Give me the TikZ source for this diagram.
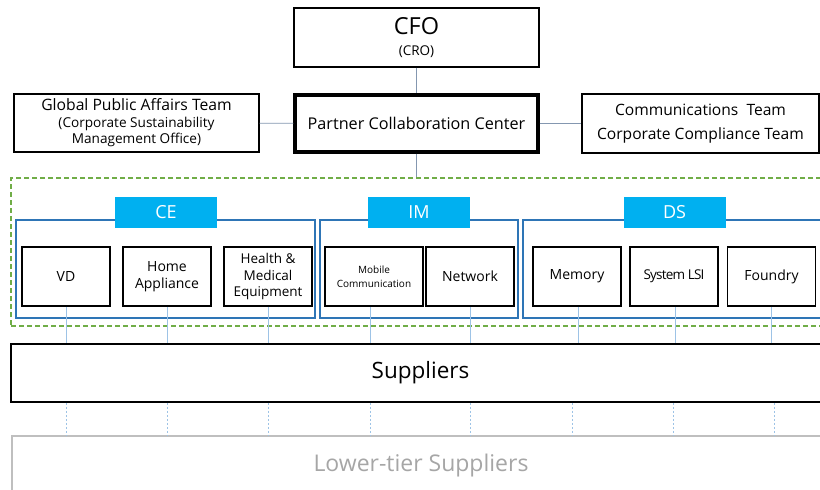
\documentclass[tikz,border=0pt]{standalone}
\usepackage{fontspec}
\setmainfont{Open Sans}
\definecolor{cyanlab}{HTML}{00B0F0}
\definecolor{contblue}{HTML}{2E75B6}
\definecolor{grn}{HTML}{70AD47}
\definecolor{lnk}{HTML}{9DC3E6}
\definecolor{lnkgray}{HTML}{8497B0}
\definecolor{lowgray}{HTML}{BFBFBF}
\definecolor{lowtxt}{HTML}{A6A6A6}
\newcommand{\fs}[2]{\fontsize{#1}{#2}\selectfont}
\tikzset{
  x=1pt, y=-1pt,
  box/.style={draw=black, line width=1.3pt, fill=white, inner sep=0pt, align=center},
  inner/.style={draw=black, line width=1.8pt, fill=white, inner sep=0pt, align=center,
    minimum width=88pt, minimum height=59pt, font=\fs{14}{17}},
  cont/.style={draw=contblue, line width=1.5pt, inner sep=0pt, minimum height=98pt},
  lab/.style={fill=cyanlab, text=white, inner sep=0pt, minimum width=102pt,
    minimum height=31pt, font=\fs{18}{20}},
  grp/.style={draw=grn, line width=1.5pt, dash pattern=on 5pt off 3pt, inner sep=0pt},
  link/.style={draw=lnk, line width=0.8pt},
  toplink/.style={draw=lnkgray, line width=0.8pt},
  dotlink/.style={draw=lnk, line width=0.8pt, dash pattern=on 2pt off 2pt},
}
\begin{document}
\begin{tikzpicture}
\fill[white] (0,0) rectangle (820,490);
\clip (0,0) rectangle (820,490);
\useasboundingbox (0,0) rectangle (820,490);

% top level
\node[box, minimum width=245pt, minimum height=59pt, font=\fs{23.5}{21}] (cfo) at (416.5,37.5)
  {CFO\\{\fs{13.5}{14}(CRO)}};
\node[box, line width=3.2pt, minimum width=243pt, minimum height=57pt, font=\fs{16.2}{18}] (pcc) at (416.5,123.5)
  {Partner Collaboration Center};
\node[box, minimum width=245pt, minimum height=58pt, font=\fs{15.7}{16.5}] (gpa) at (136.5,123)
  {Global Public Affairs Team\\{\fs{13.6}{15}(Corporate Sustainability}\\{\fs{13.6}{15}Management Office)}};
\node[box, minimum width=237pt, minimum height=59pt, font=\fs{15.6}{24}] (comm) at (700.5,123.5)
  {Communications\ \ Team\\Corporate Compliance Team};

% group
\node[grp, minimum width=819pt, minimum height=148pt] (grpbox) at (420.5,252) {};

% containers
\node[cont, minimum width=299pt] (ce) at (165.5,269) {};
\node[cont, minimum width=198pt] (im) at (419,269) {};
\node[cont, minimum width=327pt] (ds) at (686.5,269) {};
\node[lab] (celab) at (166,212.5) {CE};
\node[lab] (imlab) at (419,212.5) {IM};
\node[lab] (dslab) at (674.5,212.5) {DS};

% inner boxes
\node[inner] (vd) at (66,276.5) {VD};
\node[inner] (home) at (167,276.5) {Home\\Appliance};
\node[inner, font=\fs{13.5}{16.5}] (health) at (268,276.5) {Health \&\\Medical\\Equipment};
\node[inner, minimum width=98pt, font=\fs{10}{14}] (mobile) at (374,276.5) {Mobile\\Communication};
\node[inner] (network) at (470,276.5) {Network};
\node[inner] (memory) at (577,276.5) {Memory};
\node[inner, font=\fs{13.5}{17}\addfontfeatures{LetterSpace=-6}] (lsi) at (674,276.5) {System LSI};
\node[inner] (foundry) at (771.5,276.5) {Foundry};

% suppliers
\node[box, line width=1.8pt, minimum width=819pt, minimum height=58pt, font=\fs{22.5}{24}] (sup) at (420.5,373) {Suppliers};
\node[draw=lowgray, line width=1.8pt, fill=white, inner sep=0pt, minimum width=818pt, minimum height=60pt,
  text=lowtxt, font=\fs{23}{24}] (low) at (421,466) {Lower-tier Suppliers};

% connectors
\draw[toplink] (cfo) -- (pcc);
\draw[toplink] (gpa) -- (pcc);
\draw[toplink] (pcc) -- (comm);
\draw[toplink] (pcc.south) -- (pcc.south |- grpbox.north);
\foreach \n/\dx in {vd/0, home/0, health/0, mobile/-4, network/0, memory/1, lsi/1, foundry/0}{
  \draw[link] ([xshift=\dx pt]\n.south) -- ([xshift=\dx pt]\n.south |- sup.north);
}
\foreach \n/\dx in {vd/0, home/0, health/0, mobile/-4, network/0, memory/-5, lsi/-1, foundry/2.5}{
  \draw[dotlink] ([xshift=\dx pt]\n.south |- sup.south) -- ([xshift=\dx pt]\n.south |- low.north);
}
\end{tikzpicture}
\end{document}
